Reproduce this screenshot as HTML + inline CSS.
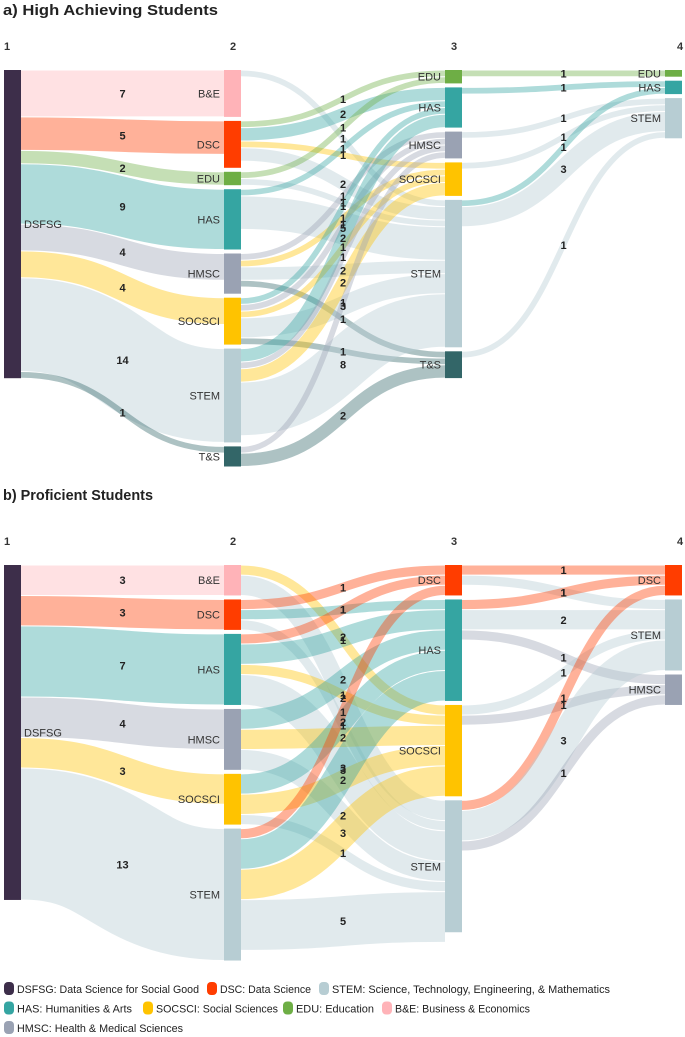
<!DOCTYPE html>
<html><head><meta charset="utf-8">
<style>
body{margin:0;background:#fff;font-family:"Liberation Sans",sans-serif;}
svg{display:block}
.t{font-weight:bold;font-size:15px;fill:#222}
.col{font-weight:bold;font-size:11px;fill:#333}
.nl{font-size:11px;fill:#333}
.ll{font-weight:bold;font-size:11px;fill:#222}
.leg{font-size:11px;fill:#222}
</style></head>
<body>
<svg id="s" width="685" height="1037">
<text class="t" x="3" y="15" textLength="215" lengthAdjust="spacingAndGlyphs">a) High Achieving Students</text>
<text class="t" x="3" y="500" textLength="150" lengthAdjust="spacingAndGlyphs">b) Proficient Students</text>
</svg>
<script>
const colors={DSFSG:"#3d2e4a",DSC:"#ff3d00",STEM:"#b7cdd3",HAS:"#35a5a2",SOCSCI:"#ffc300",EDU:"#6eae45","B&E":"#ffb3b8",HMSC:"#9aa2b3","T&S":"#336668"};
// Chart A data
const aCol1=["DSFSG"], aVal1=[46];
const aCol2=["B&E","DSC","EDU","HAS","HMSC","SOCSCI","STEM","T&S"], aVal2=[7,7,2,9,6,7,14,3];
const aCol3=["EDU","HAS","HMSC","SOCSCI","STEM","T&S"], aVal3=[2,6,4,5,22,4];
const aCol4=["EDU","HAS","STEM"], aVal4=[1,2,6];
const aLinks12=[["DSFSG","B&E",7],["DSFSG","DSC",5],["DSFSG","EDU",2],["DSFSG","HAS",9],["DSFSG","HMSC",4],["DSFSG","SOCSCI",4],["DSFSG","STEM",14],["DSFSG","T&S",1]];
const aLinks23=[["B&E","STEM",1],["DSC","EDU",1],["DSC","HAS",2],["DSC","SOCSCI",1],["DSC","STEM",2],["EDU","EDU",1],["EDU","STEM",1],["HAS","HAS",1],["HAS","STEM",5],["HMSC","HMSC",1],["HMSC","SOCSCI",1],["HMSC","STEM",2],["HMSC","T&S",1],["SOCSCI","HAS",1],["SOCSCI","HMSC",1],["SOCSCI","SOCSCI",1],["SOCSCI","STEM",3],["SOCSCI","T&S",1],["STEM","HAS",2],["STEM","HMSC",1],["STEM","SOCSCI",2],["STEM","STEM",8],["T&S","HMSC",1],["T&S","T&S",2]];
const aLinks34=[["EDU","EDU",1],["HAS","HAS",1],["HMSC","STEM",1],["SOCSCI","STEM",1],["STEM","HAS",1],["STEM","STEM",3],["T&S","STEM",1]];
// Chart B data
const bCol1=["DSFSG"], bVal1=[33];
const bCol2=["B&E","DSC","HAS","HMSC","SOCSCI","STEM"], bVal2=[3,3,7,6,5,13];
const bCol3=["DSC","HAS","SOCSCI","STEM"], bVal3=[3,10,9,13];
const bCol4=["DSC","STEM","HMSC"], bVal4=[3,7,3];
const bLinks12=[["DSFSG","B&E",3],["DSFSG","DSC",3],["DSFSG","HAS",7],["DSFSG","HMSC",4],["DSFSG","SOCSCI",3],["DSFSG","STEM",13]];
const bLinks23=[["B&E","SOCSCI",1],["B&E","STEM",2],["DSC","DSC",1],["DSC","HAS",1],["DSC","STEM",1],["HAS","DSC",1],["HAS","HAS",2],["HAS","SOCSCI",1],["HAS","STEM",3],["HMSC","HAS",2],["HMSC","SOCSCI",2],["HMSC","STEM",2],["SOCSCI","HAS",2],["SOCSCI","SOCSCI",2],["SOCSCI","STEM",1],["STEM","DSC",1],["STEM","HAS",3],["STEM","SOCSCI",3],["STEM","STEM",5]];
const bLinks34=[["DSC","DSC",1],["DSC","STEM",1],["HAS","DSC",1],["HAS","STEM",2],["HAS","HMSC",1],["SOCSCI","STEM",1],["SOCSCI","HMSC",1],["STEM","DSC",1],["STEM","STEM",3],["STEM","HMSC",1]];

const NS="http://www.w3.org/2000/svg";
const svg=document.getElementById("s");
function mk(tag,attrs,parent){const e=document.createElementNS(NS,tag);for(const k in attrs)e.setAttribute(k,attrs[k]);(parent||svg).appendChild(e);return e;}
const colX=[4,224,445,665], NW=17;

function drawChart(id,top,k,cols,vals,linkSets,numY){
  const g=mk("g",{});
  
  
  const nodes=[];
  cols.forEach((c,ci)=>{let y=top;nodes.push(c.map((n,i)=>{const h=vals[ci][i]*k;const o={name:n,x:colX[ci],y:y,h:h,so:0,to:0,i:i};y+=h+4;return o;}));});
  ["1","2","3","4"].forEach((t,i)=>{const e=mk("text",{class:"col",x:colX[i]+(i==3?12:i==0?0:6),y:numY},g);e.textContent=t;
    
    });
  const lg=mk("g",{},g), labG=mk("g",{},g);
  linkSets.forEach((links,li)=>{
    const S=nodes[li],T=nodes[li+1];
    const L=links.map(l=>({s:S.find(n=>n.name==l[0]),t:T.find(n=>n.name==l[1]),v:l[2]}));
    L.slice().sort((a,b)=>a.s.i-b.s.i||a.t.i-b.t.i).forEach(l=>{l.y0=l.s.y+l.s.so+l.v*k/2;l.s.so+=l.v*k;});
    L.slice().sort((a,b)=>a.t.i-b.t.i||a.s.i-b.s.i).forEach(l=>{l.y1=l.t.y+l.t.to+l.v*k/2;l.t.to+=l.v*k;});
    L.forEach(l=>{
      const x0=l.s.x+NW,x1=l.t.x,xm=(x0+x1)/2;
      const p=mk("path",{d:`M${x0},${l.y0}C${xm},${l.y0} ${xm},${l.y1} ${x1},${l.y1}`,fill:"none",stroke:colors[l.t.name],"stroke-opacity":l.t.name=="STEM"?0.42:0.4,"stroke-width":l.v*k-1},lg);
      
      
      const tx=mk("text",{class:"ll",x:xm,y:(l.y0+l.y1)/2+4,"text-anchor":"middle"},labG);
      tx.textContent=l.v;
      
      
    });
  });
  nodes.forEach((col,ci)=>col.forEach(n=>{
    const r=mk("rect",{x:n.x,y:n.y,width:NW,height:n.h,fill:colors[n.name]},g);
    
    
    const t=mk("text",{class:"nl",x:ci==0?n.x+NW+3:n.x-4,y:n.y+n.h/2+4,"text-anchor":ci==0?"start":"end"},g);
    t.textContent=n.name;
    
    
  }));
}
drawChart("a",70,6.7,[aCol1,aCol2,aCol3,aCol4],[aVal1,aVal2,aVal3,aVal4],[aLinks12,aLinks23,aLinks34],50);
drawChart("b",565,10.15,[bCol1,bCol2,bCol3,bCol4],[bVal1,bVal2,bVal3,bVal4],[bLinks12,bLinks23,bLinks34],545);

const legNames=["DSFSG","DSC","STEM","HAS","SOCSCI","EDU","B&E","HMSC"];
const legText=["DSFSG: Data Science for Social Good","DSC: Data Science","STEM: Science, Technology, Engineering, & Mathematics","HAS: Humanities & Arts","SOCSCI: Social Sciences","EDU: Education","B&E: Business & Economics","HMSC: Health & Medical Sciences"];
const legRow=[0,0,0,1,1,1,1,2], legX=[4,207,319,4,143,283,382,4], legW=[182,91,278,115,122,78,135,166];
legNames.forEach((n,i)=>{
  const y=982+legRow[i]*19.5;
  const r=mk("rect",{x:legX[i],y:y,width:10,height:13,rx:4,fill:colors[n]});
  
  
  const t=mk("text",{class:"leg",x:legX[i]+13,y:y+11,textLength:legW[i],lengthAdjust:"spacingAndGlyphs"});
  t.textContent=legText[i];
  
  
});
</script>
</body></html>
